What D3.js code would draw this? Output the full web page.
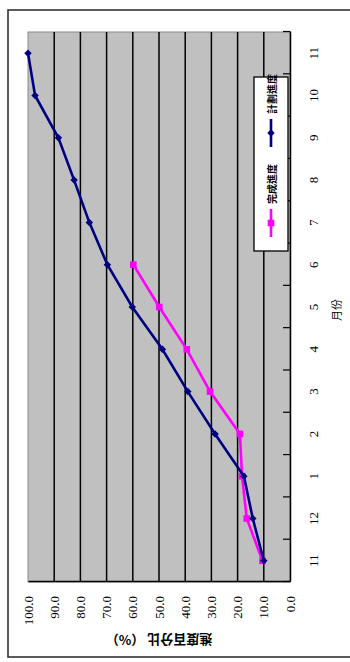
<!DOCTYPE html>
<html>
<head>
<meta charset="utf-8">
<title>進度</title>
<script src="https://cdnjs.cloudflare.com/ajax/libs/d3/7.8.5/d3.min.js"></script>
<style>
    body { margin: 0; background: #fff; }
    svg { display: block; }
</style>
</head>
<body>
<div id="chart"></div>
<script>
    var months = ["11", "12", "1", "2", "3", "4", "5", "6", "7", "8", "9", "10", "11"];
    var planned = [10.0, 14.2, 17.6, 28.6, 39.0, 48.7, 60.2, 69.7, 76.6, 82.4, 88.4, 97.3, 100.0];
    var actual = [10.5, 16.5, 18.3, 19.1, 30.5, 39.4, 49.9, 59.8];
    var valueTicks = [0, 10, 20, 30, 40, 50, 60, 70, 80, 90, 100];
    var seriesNames = ["完成進度", "計劃進度"];

    var pageW = 350, pageH = 662;
    var serif = "'Liberation Serif', 'Times New Roman', serif";
    var cjk = "'Noto Sans CJK TC', 'Noto Sans CJK SC', sans-serif";

    var svg = d3.select("#chart").append("svg")
        .attr("width", pageW)
        .attr("height", pageH);

    // the whole chart lies on its side: draw it upright, then turn it -90
    var g = svg.append("g")
        .attr("transform", "translate(0," + pageH + ") rotate(-90)");

    var plot = { left: 80, right: 630, top: 28, bottom: 290 };

    var idx = d3.range(months.length);
    var xScale = d3.scaleBand().domain(idx).range([plot.left, plot.right]).padding(0);
    var xEdge = d3.scaleLinear().domain([0, months.length]).range([plot.left, plot.right]);
    var yScale = d3.scaleLinear().domain([0, 100]).range([plot.bottom, plot.top]);
    var half = xScale.bandwidth() / 2;

    // outer frame
    g.append("rect")
        .attr("x", 5).attr("y", 8)
        .attr("width", 647).attr("height", 400)
        .attr("fill", "none")
        .attr("stroke", "#333")
        .attr("stroke-width", 1.6);

    // plot area
    g.append("rect")
        .attr("x", plot.left).attr("y", plot.top)
        .attr("width", plot.right - plot.left)
        .attr("height", plot.bottom - plot.top)
        .attr("fill", "#c0c0c0")
        .attr("stroke", "#8a8a8a")
        .attr("stroke-width", 1);

    // gridlines
    g.append("g").selectAll("line")
        .data(valueTicks.filter(function (d) { return d > 0 && d < 100; }))
        .enter().append("line")
        .attr("x1", plot.left).attr("x2", plot.right)
        .attr("y1", function (d) { return yScale(d); })
        .attr("y2", function (d) { return yScale(d); })
        .attr("stroke", "#000")
        .attr("stroke-width", 1.5);

    // category axis (ticks point into the plot)
    var xAxisG = g.append("g")
        .attr("transform", "translate(0," + plot.bottom + ")")
        .call(d3.axisBottom(xEdge).tickValues(d3.range(months.length + 1))
            .tickSizeInner(-7).tickSizeOuter(0).tickFormat(""));
    xAxisG.select(".domain").attr("stroke", "#000").attr("stroke-width", 1.5);
    xAxisG.selectAll(".tick line").attr("stroke", "#000").attr("stroke-width", 1.2);

    var xLabG = g.append("g")
        .attr("transform", "translate(0," + plot.bottom + ")")
        .call(d3.axisBottom(xScale).tickSize(0).tickPadding(19)
            .tickFormat(function (i) { return months[i]; }));
    xLabG.select(".domain").remove();
    xLabG.selectAll("text")
        .style("font-family", serif)
        .style("font-size", "13px")
        .attr("fill", "#000");

    // value axis
    var yAxisG = g.append("g")
        .attr("transform", "translate(" + plot.left + ",0)")
        .call(d3.axisLeft(yScale).tickValues(valueTicks).tickSize(0).tickPadding(14)
            .tickFormat(d3.format(".1f")));
    yAxisG.select(".domain").attr("stroke", "#000").attr("stroke-width", 1.5);
    yAxisG.selectAll("text")
        .style("font-family", serif)
        .style("font-size", "13px")
        .attr("fill", "#000");

    // axis titles
    g.append("text")
        .attr("x", 352).attr("y", 336)
        .attr("text-anchor", "middle")
        .attr("dominant-baseline", "central")
        .style("font-family", cjk)
        .style("font-size", "11px")
        .text("月份");

    g.append("text")
        .attr("transform", "translate(22," + ((plot.top + plot.bottom) / 2) + ") rotate(-90)")
        .attr("text-anchor", "middle")
        .attr("dominant-baseline", "central")
        .style("font-family", cjk)
        .style("font-size", "13px")
        .style("font-weight", "bold")
        .text("進度百分比 （%）");

    var line = d3.line()
        .x(function (d, i) { return xScale(i) + half; })
        .y(function (d) { return yScale(d); });

    var series = [
        { name: seriesNames[0], values: actual, color: "#ff00ff", shape: d3.symbolSquare, size: 44 },
        { name: seriesNames[1], values: planned, color: "#000080", shape: d3.symbolDiamond2, size: 36 }
    ];

    series.forEach(function (s) {
        g.append("path")
            .datum(s.values)
            .attr("d", line)
            .attr("fill", "none")
            .attr("stroke", s.color)
            .attr("stroke-width", 2.6);
        g.append("g").selectAll("path")
            .data(s.values)
            .enter().append("path")
            .attr("transform", function (d, i) {
                return "translate(" + (xScale(i) + half) + "," + yScale(d) + ")";
            })
            .attr("d", d3.symbol().type(s.shape).size(s.size))
            .attr("fill", s.color);
    });

    // legend
    var legend = g.append("g").attr("transform", "translate(411,254)");
    legend.append("rect")
        .attr("width", 174).attr("height", 34)
        .attr("fill", "#fff")
        .attr("stroke", "#000")
        .attr("stroke-width", 1.3);

    var legendX = [14, 104];
    series.forEach(function (s, k) {
        var row = legend.append("g").attr("transform", "translate(" + legendX[k] + ",17)");
        row.append("line")
            .attr("x1", 0).attr("x2", 28)
            .attr("stroke", s.color)
            .attr("stroke-width", 2.6);
        row.append("path")
            .attr("transform", "translate(14,0)")
            .attr("d", d3.symbol().type(s.shape).size(s.size))
            .attr("fill", s.color);
        row.append("text")
            .attr("x", 33)
            .attr("dominant-baseline", "central")
            .style("font-family", cjk)
            .style("font-size", "10px")
            .style("font-weight", "bold")
            .text(s.name);
    });
</script>
</body>
</html>
